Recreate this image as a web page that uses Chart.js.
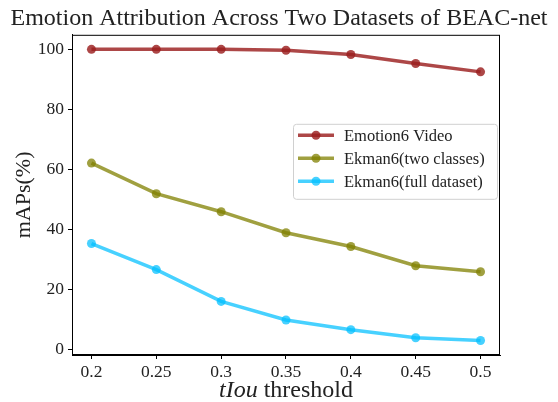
<!DOCTYPE html>
<html>
<head>
<meta charset="utf-8">
<script src="https://cdn.jsdelivr.net/npm/chart.js@4"></script>
<style>
html, body { margin: 0; padding: 0; background: #fff; }
</style>
</head>
<body>
<canvas id="myChart" width="558" height="402"></canvas>
<script>
var thresholds = [0.2, 0.25, 0.3, 0.35, 0.4, 0.45, 0.5];
var emotion6Video = [100, 100, 100, 99.7, 98.3, 95.3, 92.5];
var ekmanTwoClasses = [62.1, 51.9, 45.9, 38.9, 34.3, 27.9, 25.9];
var ekmanFull = [35.3, 26.6, 16.0, 9.8, 6.6, 3.9, 3.0];
var seriesNames = ['Emotion6 Video', 'Ekman6(two classes)', 'Ekman6(full dataset)'];
var yTicks = [0, 20, 40, 60, 80, 100];

var serif = '"Liberation Serif", "DejaVu Serif", serif';
var colors = ['rgba(155, 30, 30, 0.82)', 'rgba(128, 128, 0, 0.75)', 'rgba(0, 191, 255, 0.72)'];

function toPoints(vals) {
    return vals.map(function (v, i) { return { x: thresholds[i], y: v }; });
}

function makeSet(label, vals, color) {
    return {
        label: label,
        data: toPoints(vals),
        borderColor: color,
        backgroundColor: color,
        pointBackgroundColor: color,
        pointBorderWidth: 0,
        pointRadius: 4.5,
        borderWidth: 3.5,
        tension: 0,
        fill: false
    };
}

// frame around plot, x title with italic part, legend box
var extras = {
    id: 'extras',
    afterDraw: function (chart) {
        var ctx = chart.ctx;
        var a = chart.chartArea;
        ctx.save();
        ctx.strokeStyle = '#000';
        ctx.lineWidth = 1;
        ctx.strokeRect(a.left + 0.5, a.top + 0.5, a.right - a.left - 1, a.bottom - a.top - 1);

        // x axis title
        ctx.fillStyle = '#222';
        ctx.textBaseline = 'middle';
        var fItal = 'italic 24px ' + serif;
        var fNorm = '24px ' + serif;
        ctx.font = fItal;
        var w1 = ctx.measureText('tIou').width;
        ctx.font = fNorm;
        var w2 = ctx.measureText(' threshold').width;
        var cx = (a.left + a.right) / 2;
        var x0 = cx - (w1 + w2) / 2;
        ctx.font = fItal;
        ctx.textAlign = 'left';
        ctx.fillText('tIou', x0, 391);
        ctx.font = fNorm;
        ctx.fillText(' threshold', x0 + w1, 391);

        // legend
        var bx = a.right - 207, by = a.top + 89, bw = 204, bh = 75;
        ctx.fillStyle = 'rgba(255,255,255,0.8)';
        ctx.strokeStyle = '#d0d0d0';
        ctx.beginPath();
        if (ctx.roundRect) ctx.roundRect(bx + 0.5, by + 0.5, bw, bh, 3); else ctx.rect(bx + 0.5, by + 0.5, bw, bh);
        ctx.fill();
        ctx.stroke();
        ctx.font = '16.5px ' + serif;
        chart.data.datasets.forEach(function (ds, i) {
            var ry = by + 11.5 + i * 23;
            ctx.strokeStyle = ds.borderColor;
            ctx.lineWidth = 3.5;
            ctx.beginPath();
            ctx.moveTo(bx + 5, ry);
            ctx.lineTo(bx + 41, ry);
            ctx.stroke();
            ctx.fillStyle = ds.borderColor;
            ctx.beginPath();
            ctx.arc(bx + 23, ry, 4.5, 0, Math.PI * 2);
            ctx.fill();
            ctx.fillStyle = '#222';
            ctx.fillText(ds.label, bx + 51, ry + 1);
        });
        ctx.restore();
    }
};

var testChart = new Chart('myChart', {
    type: 'line',
    data: {
        datasets: [
            makeSet(seriesNames[0], emotion6Video, colors[0]),
            makeSet(seriesNames[1], ekmanTwoClasses, colors[1]),
            makeSet(seriesNames[2], ekmanFull, colors[2])
        ]
    },
    options: {
        responsive: false,
        animation: false,
        layout: {
            padding: 0
        },
        plugins: {
            legend: { display: false },
            tooltip: { enabled: false },
            title: {
                display: true,
                text: 'Emotion Attribution Across Two Datasets of BEAC-net',
                color: '#222',
                font: { family: serif, size: 24, weight: 'normal' },
                padding: { top: 4, bottom: 2 }
            }
        },
        scales: {
            x: {
                type: 'linear',
                min: 0.185,
                max: 0.515,
                afterBuildTicks: function (s) {
                    s.ticks = thresholds.map(function (v) { return { value: v }; });
                },
                afterFit: function (s) { s.height = 47; },
                ticks: {
                    color: '#222',
                    font: { family: serif, size: 17.5 },
                    padding: 3,
                    maxRotation: 0,
                    callback: function (v) { return String(v); }
                },
                grid: { display: true, drawOnChartArea: false, drawTicks: true, tickLength: 4, color: '#000' },
                border: { display: true, color: '#000', width: 1 }
            },
            y: {
                min: -1.85,
                max: 104.85,
                afterBuildTicks: function (s) {
                    s.ticks = yTicks.map(function (v) { return { value: v }; });
                },
                afterFit: function (s) { s.width = 72; },
                ticks: {
                    color: '#222',
                    font: { family: serif, size: 17.5 },
                    padding: 4
                },
                grid: { display: true, drawOnChartArea: false, drawTicks: true, tickLength: 4, color: '#000' },
                border: { display: true, color: '#000', width: 1 },
                title: {
                    display: true,
                    text: 'mAPs(%)',
                    color: '#222',
                    font: { family: serif, size: 22 },
                    padding: { top: 11, bottom: 0 }
                }
            },
            yRight: {
                position: 'right',
                display: true,
                min: -1.85,
                max: 104.85,
                afterFit: function (s) { s.width = 58; },
                ticks: { display: false },
                grid: { display: false },
                border: { display: false }
            }
        }
    },
    plugins: [extras]
});
</script>
</body>
</html>
